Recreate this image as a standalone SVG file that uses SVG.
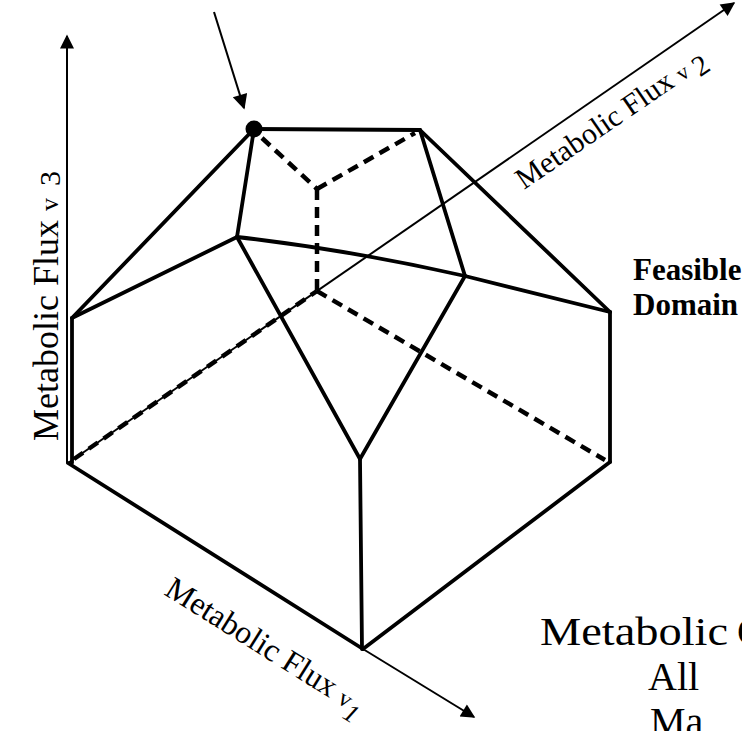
<svg xmlns="http://www.w3.org/2000/svg" width="742" height="731" viewBox="0 0 742 731">
<defs>
<marker id="ah" viewBox="0 0 10 10" refX="9" refY="5" markerUnits="userSpaceOnUse" markerWidth="20" markerHeight="14" orient="auto">
<path d="M0,0 L10,5 L0,10 z" fill="#000"/>
</marker>
<marker id="ahb" viewBox="0 0 10 10" refX="9" refY="5" markerUnits="userSpaceOnUse" markerWidth="24" markerHeight="15" orient="auto">
<path d="M0,0 L10,5 L0,10 z" fill="#000"/>
</marker>
</defs>
<style>
.edge{stroke:#000;stroke-width:3.8;fill:none;stroke-linecap:round;stroke-linejoin:round}
.axis{stroke:#000;stroke-width:2;fill:none}
.dash{stroke:#000;stroke-width:4.5;stroke-dasharray:11 7;fill:none}
.lbl{font-family:"Liberation Serif","Times New Roman",serif;fill:#000}
.bold{font-weight:bold}
</style>
<rect width="742" height="731" fill="#fff"/>
<g id="connectors">
<line class="axis" x1="67" y1="463" x2="67" y2="36" stroke-width="2.4" marker-end="url(#ah)"/>
<line class="axis" x1="68" y1="463" x2="734" y2="3" marker-end="url(#ah)"/>
<line class="axis" x1="363" y1="649" x2="474" y2="717" stroke-width="2.6" marker-end="url(#ah)"/>
<line class="axis" x1="214" y1="12" x2="244" y2="108" stroke-width="2.8" marker-end="url(#ahb)"/>
<line class="edge" x1="254" y1="129" x2="420" y2="130"/>
<line class="edge" x1="254" y1="129" x2="72" y2="318"/>
<line class="edge" x1="254" y1="129" x2="237" y2="237"/>
<line class="edge" x1="420" y1="130" x2="465" y2="276"/>
<line class="edge" x1="420" y1="130" x2="610" y2="312"/>
<line class="edge" x1="72" y1="318" x2="237" y2="237"/>
<path class="edge" d="M237,237 Q350,250 465,276"/>
<line class="edge" x1="465" y1="276" x2="610" y2="312"/>
<line class="edge" x1="237" y1="237" x2="360" y2="459"/>
<line class="edge" x1="465" y1="276" x2="360" y2="459"/>
<line class="edge" x1="360" y1="459" x2="362" y2="649"/>
<line class="edge" x1="72" y1="318" x2="72" y2="463"/>
<line class="edge" x1="610" y1="312" x2="610" y2="462"/>
<line class="edge" x1="68" y1="463" x2="363" y2="649"/>
<line class="edge" x1="610" y1="462" x2="363" y2="649"/>
<line class="dash" x1="262" y1="138" x2="317" y2="189"/>
<line class="dash" x1="317" y1="189" x2="415" y2="133"/>
<line class="dash" x1="317" y1="189" x2="317" y2="291"/>
<line class="dash" x1="317" y1="291" x2="605" y2="460"/>
<line class="dash" x1="74" y1="459" x2="317" y2="291"/>
</g>
<g id="optimum-vertex">
<circle cx="254" cy="129" r="8.5" fill="#000"/>
</g>
<g id="label-v3">
<text class="lbl" transform="translate(58,441) rotate(-90)" font-size="36">Metabolic Flux <tspan font-size="26">v</tspan><tspan dx="12" dy="2" font-size="30">3</tspan></text>
</g>
<g id="label-v2">
<text class="lbl" transform="translate(524,190) rotate(-34.5)" font-size="30">Metabolic Flux <tspan font-size="22">v</tspan><tspan dx="6" dy="7" font-size="29">2</tspan></text>
</g>
<g id="label-v1">
<text class="lbl" transform="translate(163,594) rotate(32)" font-size="32">Metabolic Flux <tspan font-size="24">v</tspan><tspan dx="0" dy="10" font-size="26" font-style="italic">1</tspan></text>
</g>
<g id="label-feasible">
<text class="lbl bold" x="633" y="280" font-size="31">Feasible</text>
<text class="lbl bold" x="633" y="315" font-size="31">Domain</text>
</g>
<g id="label-bottom">
<text class="lbl" x="540" y="645" font-size="40"><tspan textLength="188" lengthAdjust="spacingAndGlyphs">Metabolic</tspan><tspan x="737">C</tspan></text>
<text class="lbl" x="648" y="690" font-size="40">All</text>
<text class="lbl" x="650" y="735" font-size="40">Ma</text>
</g>
</svg>
